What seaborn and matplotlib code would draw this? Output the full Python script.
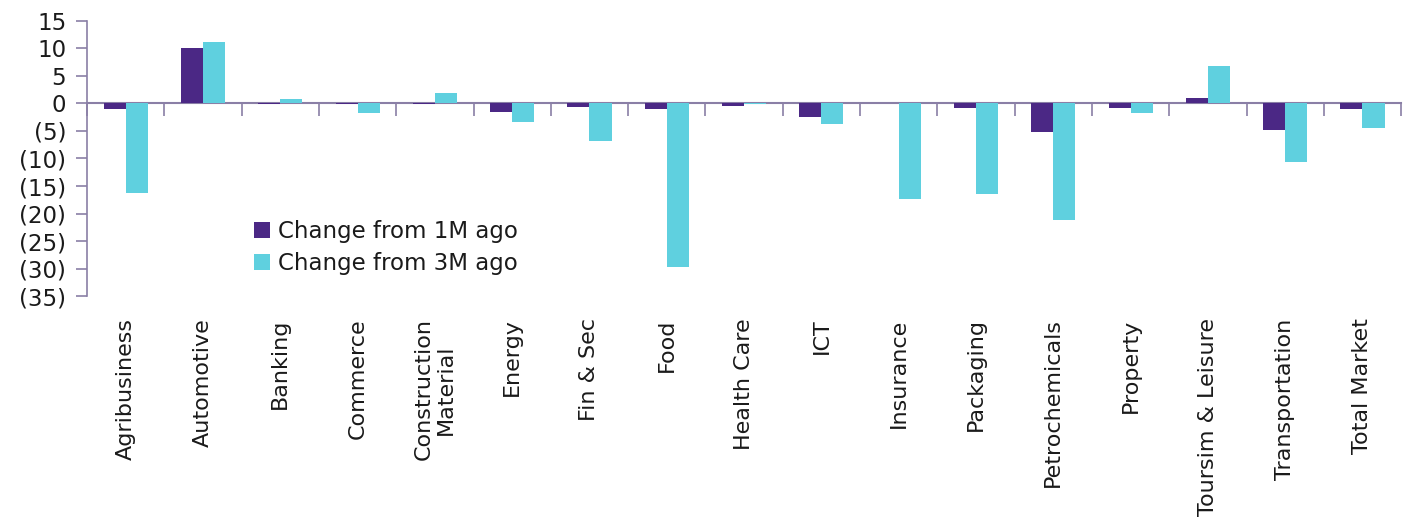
import matplotlib
matplotlib.use("Agg")
import matplotlib.pyplot as plt
import seaborn as sns
import pandas as pd
import numpy as np
from matplotlib.ticker import FuncFormatter

categories = ["Agribusiness", "Automotive", "Banking", "Commerce", "Construction\nMaterial",
              "Energy", "Fin & Sec", "Food", "Health Care", "ICT", "Insurance", "Packaging",
              "Petrochemicals", "Property", "Toursim & Leisure", "Transportation", "Total Market"]
change_1m = [-1.1, 10.1, -0.1, -0.2, -0.2, -1.6, -0.7, -1.0, -0.4, -2.4, 0.0, -0.8,
             -5.2, -0.9, 0.9, -4.9, -1.1]
change_3m = [-16.2, 11.1, 0.8, -1.7, 1.9, -3.3, -6.8, -29.6, -0.2, -3.8, -17.4, -16.4,
             -21.2, -1.8, 6.8, -10.7, -4.5]
series_names = ["Change from 1M ago", "Change from 3M ago"]
colors = ["#4B2885", "#5FD0DF"]
y_ticks = list(range(-35, 16, 5))

df = pd.DataFrame({
    "Sector": categories * 2,
    "Value": change_1m + change_3m,
    "Series": [series_names[0]] * len(categories) + [series_names[1]] * len(categories),
})

sns.set_style("white")
plt.rcParams["font.family"] = ["DejaVu Sans"]
plt.rcParams["text.color"] = "#1a1a1a"
plt.rcParams["xtick.color"] = "#1a1a1a"
plt.rcParams["ytick.color"] = "#1a1a1a"
spine_col = "#8a7fa6"
fs = 16.5

fig = plt.figure(figsize=(14.13, 5.30), dpi=100)
ax = fig.add_axes([0.0616, 0.441, 0.93, 0.520])

sns.barplot(data=df, x="Sector", y="Value", hue="Series", palette=colors,
            width=0.57, ax=ax, saturation=1, linewidth=0)

ax.set_ylim(-35, 15)
ax.set_xlim(-0.5, len(categories) - 0.5)
ax.set_yticks(y_ticks)
ax.yaxis.set_major_formatter(FuncFormatter(lambda v, p: f"({abs(int(v))})" if v < 0 else f"{int(v)}"))
ax.tick_params(axis="y", direction="out", length=8, width=1.2, color=spine_col,
               labelsize=fs, labelcolor="#1a1a1a", pad=7, left=True)
ax.set_xlabel("")
ax.set_ylabel("")
ax.tick_params(axis="x", length=0, labelsize=16, labelcolor="#1a1a1a", pad=16, labelrotation=90)
for lab in ax.get_xticklabels():
    lab.set_ha("center")
    lab.set_va("top")
    lab.set_linespacing(1.1)

for s in ["top", "right", "bottom"]:
    ax.spines[s].set_visible(False)
ax.spines["left"].set_color(spine_col)
ax.spines["left"].set_linewidth(1.2)

# zero-line axis with category boundary ticks pointing downward
zero_frac = (0 - (-35)) / (15 - (-35))
sec = ax.secondary_xaxis(zero_frac)
for s in sec.spines.values():
    s.set_color(spine_col)
    s.set_linewidth(1.5)
sec.set_xticks(np.arange(-0.5, len(categories), 1.0))
sec.tick_params(axis="x", direction="in", length=9, width=1.2, color=spine_col,
                labelbottom=False, labeltop=False)

ax.legend(title=None, frameon=False, loc="upper left", bbox_to_anchor=(0.12, 0.31),
          fontsize=fs, handlelength=0.7, handleheight=0.7, handletextpad=0.35,
          labelspacing=0.4, borderaxespad=0)

fig.savefig("out.png", dpi=100)
